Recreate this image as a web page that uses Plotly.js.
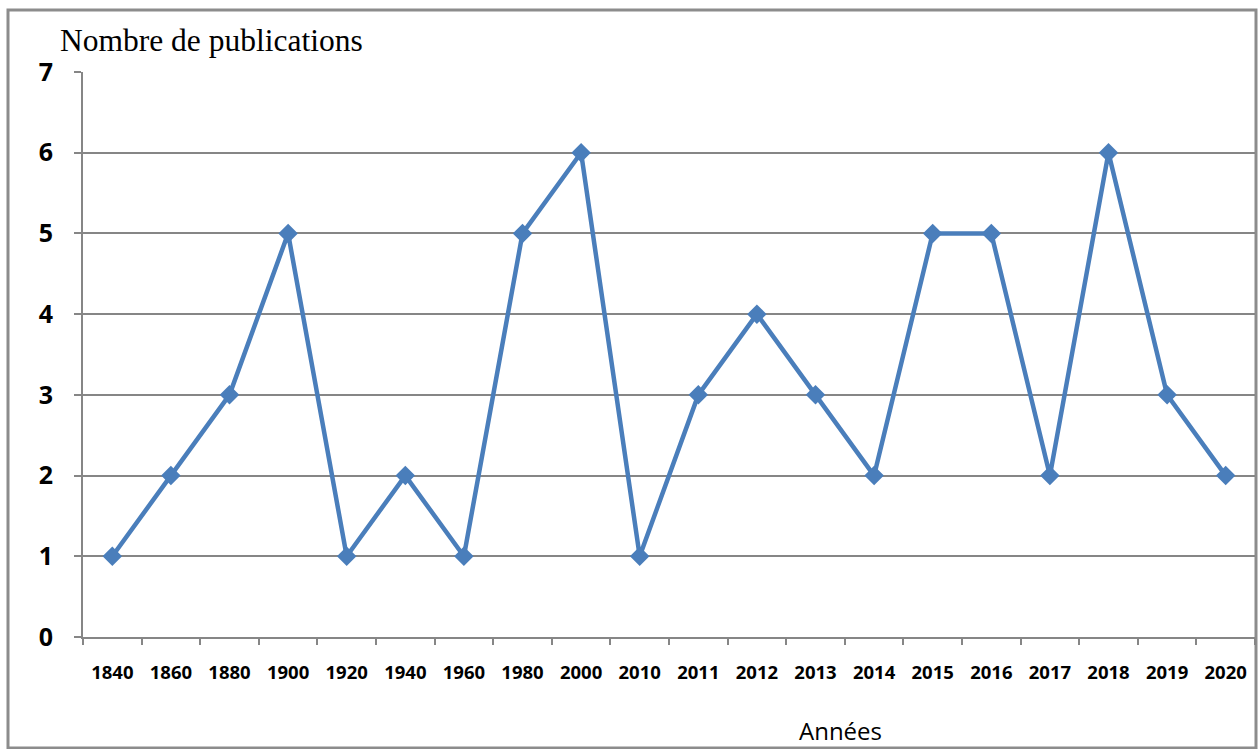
<!DOCTYPE html>
<html><head><meta charset="utf-8">
<script src="https://cdn.plot.ly/plotly-3.0.1.min.js"></script>
<style>html,body{margin:0;padding:0;background:#fff}#chart{width:1259px;height:749px}</style>
</head><body><div id="chart"></div>
<script>
const years = ['1840','1860','1880','1900','1920','1940','1960','1980','2000','2010','2011','2012','2013','2014','2015','2016','2017','2018','2019','2020'];
const publications = [1,2,3,5,1,2,1,5,6,1,3,4,3,2,5,5,2,6,3,2];
const yTicks = [0,1,2,3,4,5,6,7];
const titleText = 'Nombre de publications';
const xTitleText = 'Années';

const L = 83, R = 1255, T = 72, B = 637;
const W = R - L, H = B - T;
const px = x => (x - L) / W;
const py = y => (B - y) / H;

const trace = {
  x: years, y: publications, type: 'scatter', mode: 'lines+markers',
  line: {color: '#4A7EBB', width: 4.5},
  marker: {symbol: 'diamond', size: 15, color: '#4A7EBB'},
  cliponaxis: false, hoverinfo: 'skip'
};

const layout = {
  width: 1259, height: 749,
  margin: {l: L, r: 1259 - R, t: T, b: 749 - B, pad: 0},
  paper_bgcolor: '#fff', plot_bgcolor: '#fff',
  showlegend: false,
  xaxis: {
    type: 'category', tickvals: years, ticktext: years,
    tickson: 'boundaries', ticks: 'outside', ticklen: 6, tickwidth: 2, tickcolor: '#868686',
    showline: true, linecolor: '#868686', linewidth: 2,
    showgrid: false, zeroline: false,
    ticklabelstandoff: 18,
    tickfont: {family: 'Open Sans', size: 18.5, color: '#000', weight: 'bold'},
    range: [-0.5, years.length - 0.5], fixedrange: true
  },
  yaxis: {
    range: [0, 7], tickvals: yTicks, ticktext: yTicks.map(String),
    ticks: 'outside', ticklen: 7, tickwidth: 2, tickcolor: '#868686',
    showline: true, linecolor: '#868686', linewidth: 2,
    showgrid: true, gridcolor: '#868686', gridwidth: 2, zeroline: false,
    ticklabelstandoff: 16,
    tickfont: {family: 'Open Sans', size: 25, color: '#000', weight: 'bold'},
    fixedrange: true
  },
  shapes: [
    {type: 'rect', xref: 'paper', yref: 'paper', x0: px(8), x1: px(1256), y0: py(748), y1: py(10),
     line: {color: '#8c8c8c', width: 3}, fillcolor: 'rgba(0,0,0,0)', layer: 'below'}
  ],
  annotations: [
    {text: titleText, xref: 'paper', yref: 'paper', x: px(58), y: py(40), xanchor: 'left', yanchor: 'middle',
     showarrow: false, font: {family: 'Liberation Serif, Times New Roman, serif', size: 31.5, color: '#000'}},
    {text: xTitleText, xref: 'paper', yref: 'paper', x: px(840), y: py(730), xanchor: 'center', yanchor: 'middle',
     showarrow: false, font: {family: 'Open Sans', size: 24, color: '#000'}}
  ]
};

Plotly.newPlot('chart', [trace], layout, {displayModeBar: false, staticPlot: true});
</script></body></html>
